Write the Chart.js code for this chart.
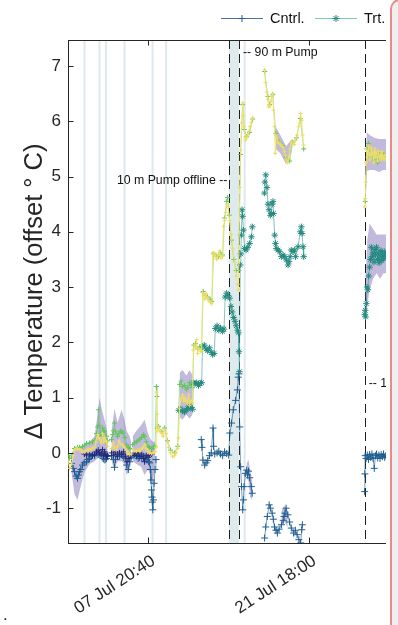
<!DOCTYPE html>
<html>
<head>
<meta charset="utf-8">
<script src="https://cdn.jsdelivr.net/npm/chart.js@4.4.1/dist/chart.umd.min.js"></script>
<style>
  html, body { margin: 0; padding: 0; background: #fff; }
  body { width: 398px; height: 625px; position: relative; overflow: hidden; font-family: "Liberation Sans", Arial, sans-serif; }
  #clip { position: absolute; left: 0; top: 0; width: 386px; height: 625px; overflow: hidden; }
  #side { position: absolute; left: 390px; top: -1px; width: 30px; height: 640px; background: #efefef;
          border-left: 2px solid #ec8a8a; border-top: 2px solid #ec8a8a; border-top-left-radius: 10px; }
  #dot { position: absolute; left: 3px; top: 605px; font-size: 17px; color: #222; }
</style>
</head>
<body>
<div id="clip"><canvas id="chart" width="430" height="625"></canvas></div>
<div id="side"></div>
<span id="dot">.</span>
<script>
// x values are days since 01 Jul 00:00
const xTickValues = [6.861, 20.75];
const xTickLabels = ['07 Jul 20:40', '21 Jul 18:00'];
const yTickValues = [-1, 0, 1, 2, 3, 4, 5, 6, 7];

// event markers
const eventDays = [1.42, 2.72, 3.28, 4.87, 7.29, 8.46, 15.23];
const pumpBand = [13.87, 14.74];
const dashedDays = [13.87, 14.74, 25.58];
const notes = [
  { text: '-- 90 m Pump', x: 14.74, y: 7.25, align: 'left' },
  { text: '10 m Pump offline --', x: 13.87, y: 4.93, align: 'right' },
  { text: '-- 10 m Pump online', x: 25.58, y: 1.25, align: 'left' }
];

// [day, value], null = gap
const cntrl = [
  [0.30,-0.19],[0.45,-0.28],[0.56,-0.34],[0.70,-0.42],[0.82,-0.46],[0.90,-0.40],[0.99,-0.34],[1.10,-0.30],
  [1.25,-0.22],[1.40,-0.18],[1.60,-0.16],[1.75,-0.12],[1.86,-0.10],[2.00,-0.06],[2.11,-0.04],[2.30,-0.05],
  [2.46,0.00],[2.60,-0.03],[2.75,-0.04],[2.90,-0.02],[3.05,-0.10],[3.20,-0.12],[3.32,-0.10],[3.41,-0.06], null,
  [3.75,-0.05],[3.93,-0.12],[4.01,-0.26],[4.10,-0.12],[4.27,-0.03],[4.44,-0.06],[4.62,-0.02],[4.80,-0.08],
  [4.95,-0.10],[5.05,-0.22],[5.20,-0.30],[5.31,-0.16],[5.45,-0.08], null,
  [5.60,-0.05],[5.74,-0.02],[5.90,-0.06],[6.05,-0.10],[6.17,-0.08],[6.35,-0.10],[6.50,-0.06],[6.65,-0.08],
  [6.80,-0.12],[6.95,-0.16],[7.03,-0.18],[7.10,-0.30],[7.15,-0.49],[7.20,-0.67],[7.24,-0.80],[7.27,-0.89],
  [7.31,-1.03],[7.36,-0.85],[7.42,-0.55],[7.50,-0.30],[7.58,-0.12], null,
  [11.49,0.24],[11.55,0.10],[11.63,-0.13],[11.78,-0.22],[11.90,-0.18],[12.04,-0.14],[12.20,-0.05],[12.35,0.00],
  [12.50,0.45],[12.55,0.12],[12.65,-0.02],[12.85,0.00],[13.00,0.03],[13.15,-0.02],[13.33,-0.05],[13.50,0.02],
  [13.68,-0.01],[13.85,-0.04],[13.95,0.36],[14.10,0.54],[14.25,0.78],[14.45,0.95],[14.60,1.14],[14.68,1.37],
  [14.74,1.43],[14.80,0.47],[14.88,-0.25],[14.96,-0.61],[15.06,-1.03],[15.12,-0.85],[15.18,-0.61],[15.29,-0.37],
  [15.40,-0.31],[15.48,-0.40],[15.56,-0.33],[15.66,-0.45],[15.80,-0.61],[15.88,-0.73], null,
  [16.95,-1.54],[17.05,-1.34],[17.18,-1.15],[17.34,-0.94],[17.45,-1.00],[17.60,-1.09],[17.70,-1.20],[17.80,-1.34],
  [17.93,-1.40],[18.05,-1.45],[18.20,-1.38],[18.40,-1.30],[18.55,-1.22],[18.62,-1.15],[18.70,-1.09],[18.80,-1.00],
  [18.95,-1.12],[19.10,-1.25],[19.25,-1.36],[19.45,-1.45],[19.60,-1.40],[19.75,-1.48],[19.90,-1.57],[20.05,-1.63],
  [20.15,-1.39],[20.20,-1.30], null,
  [25.57,-0.70],[25.59,-0.38],[25.62,-0.05],[25.70,-0.10],[25.80,-0.04],[25.90,-0.12],[26.00,-0.03],[26.10,-0.08],
  [26.20,-0.02],[26.30,-0.10],[26.40,-0.28],[26.50,-0.05],[26.60,-0.02],[26.70,-0.09],[26.80,-0.04],[26.90,-0.10],
  [27.00,-0.03],[27.10,-0.07],[27.20,-0.02],[27.30,-0.08],[27.40,-0.05],[27.55,-0.06]
];

const trt = [
  [9.55,0.77],[9.70,0.80],[9.88,0.76],[10.05,0.74],[10.20,0.78],[10.31,0.80],[10.48,0.86],[10.60,0.82],[10.74,0.79],
  [10.80,1.27],[10.95,1.25],[11.09,1.27],[11.25,1.22],[11.40,1.26],[11.52,1.27],
  [11.60,1.92],[11.75,1.95],[11.90,1.88],[12.04,1.85],[12.20,1.90],[12.35,1.82],[12.47,1.78],[12.60,1.80],
  [12.70,2.25],[12.85,2.30],[13.00,2.22],[13.15,2.26],[13.33,2.20],[13.45,2.24],
  [13.55,2.82],[13.68,2.89],[13.80,2.85],[13.93,2.80],[14.05,2.65],[14.15,2.55],[14.28,2.45],[14.40,2.38],
  [14.50,2.30],[14.62,2.22],[14.70,2.17],[14.74,1.83],[14.78,1.47],
  [14.85,3.40],[14.90,3.60],[14.94,3.94],[15.00,4.40],[15.05,4.28],[15.12,4.03],[15.22,3.70],[15.35,3.67],
  [15.50,3.72],[15.66,3.79],[15.81,3.91],[15.89,4.09], null,
  [16.93,4.70],[16.97,4.90],[17.05,5.03],[17.15,4.80],[17.24,4.50],[17.33,4.40],[17.44,4.30],[17.52,4.33],
  [17.60,4.50],[17.67,4.55],[17.72,4.33],[17.82,3.94],[17.89,3.79],[17.96,3.70],[18.11,3.67],[18.25,3.64],
  [18.39,3.55],[18.54,3.58],[18.68,3.55],[18.82,3.49],[18.97,3.40],[19.05,3.46],[19.15,3.55],[19.25,3.67],
  [19.40,3.64],[19.54,3.67],[19.62,3.55],[19.83,3.73],[20.03,4.00],[20.12,4.09],[20.18,3.97],[20.26,3.73],[20.32,3.55], null,
  [25.58,2.50],[25.62,2.58],[25.66,2.46],[25.72,2.70],[25.78,3.00],[25.85,2.95],[25.92,3.20],[26.00,3.36],
  [26.08,3.50],[26.15,3.72],[26.22,3.55],[26.30,3.62],[26.38,3.45],[26.45,3.68],[26.52,3.58],[26.60,3.72],
  [26.68,3.50],[26.75,3.62],[26.82,3.44],[26.90,3.56],[26.98,3.66],[27.05,3.48],[27.12,3.60],[27.20,3.52],
  [27.30,3.64],[27.40,3.55],[27.55,3.58]
];

const navy = [
  [1.42,-0.02],[1.60,-0.04],[1.86,-0.02],[2.11,-0.05],[2.29,-0.03],[2.46,0.02],[2.60,0.05],[2.72,0.00],
  [2.85,-0.02],[2.98,0.06],[3.07,-0.05],[3.15,0.02],[3.25,-0.03],[3.32,-0.06],[3.41,-0.05], null,
  [3.75,0.00],[3.93,-0.04],[4.10,0.02],[4.27,-0.06],[4.44,0.00],[4.62,-0.03],[4.80,0.02],[4.95,-0.06],
  [5.10,-0.16],[5.25,-0.10],[5.40,-0.05], null,
  [5.74,-0.02],[5.90,-0.05],[6.05,0.00],[6.20,-0.06],[6.35,-0.02],[6.50,-0.10],[6.60,-0.16],[6.75,-0.05],
  [6.90,-0.08],[7.03,-0.04],[7.20,-0.02]
];

const green = [
  [0.00,-0.04],[0.13,-0.10],[0.30,-0.05],[0.56,0.08],[0.82,0.10],[0.99,0.10],[1.25,0.12],[1.42,0.14],
  [1.60,0.17],[1.86,0.18],[2.11,0.20],[2.29,0.22],[2.46,0.35],[2.55,0.47],[2.62,0.78],[2.68,0.50],
  [2.80,0.35],[2.90,0.30],[2.98,0.45],[3.07,0.40],[3.15,0.38],[3.32,0.30],[3.41,0.22], null,
  [3.75,0.24],[3.85,0.33],[3.93,0.40],[4.01,0.54],[4.10,0.38],[4.27,0.30],[4.40,0.35],[4.55,0.40],
  [4.62,0.38],[4.75,0.36],[4.90,0.28],[5.05,0.15],[5.20,0.10],[5.35,0.08], null,
  [5.57,0.15],[5.74,0.18],[5.90,0.20],[6.05,0.22],[6.20,0.25],[6.35,0.28],[6.50,0.33],[6.60,0.30],
  [6.75,0.20],[6.90,0.12],[7.03,0.10],[7.20,0.08],[7.35,0.10],[7.50,0.12],[7.62,1.20],[7.66,1.02],
  [7.70,0.45],[7.81,0.48],[8.07,0.38],[8.33,0.45],[8.58,0.22],[8.84,0.05],[9.19,0.00],[9.45,0.12],
  [9.62,1.24],[9.75,1.30],[9.88,1.20],[10.05,1.22],[10.20,1.15],[10.31,1.18],[10.48,1.27],[10.60,1.22],[10.74,1.18],
  [10.85,1.95],[11.00,1.98],[11.17,1.88],[11.35,1.92],[11.52,1.90],
  [11.65,2.92],[11.85,2.85],[12.04,2.82],[12.25,2.78],[12.40,2.74],
  [12.55,3.60],[12.75,3.58],[12.95,3.55],[13.15,3.62],[13.33,3.58],
  [13.50,4.25],[13.68,4.55],[13.76,4.62],[13.90,4.30],[14.10,3.85],[14.30,3.50],[14.50,3.30],[14.71,3.30],
  [14.88,5.40],[15.06,6.30],[15.20,5.85],[15.40,5.72],[15.66,5.80],[15.92,6.04], null,
  [16.95,6.90],[17.22,6.45],[17.39,6.30],[17.65,6.48],[17.91,5.78],[18.20,5.62],[18.51,5.56],[18.80,5.35],
  [19.11,5.28],[19.37,5.62],[19.70,5.70],[20.03,6.05],[20.32,5.50], null,
  [25.62,4.55],[25.76,5.50],[25.90,5.60],[26.05,5.35],[26.20,5.45],[26.36,5.30],[26.52,5.38],[26.68,5.25],
  [26.84,5.40],[27.00,5.32],[27.16,5.42],[27.35,5.35],[27.55,5.38]
];

const yellow = [
  [0.00,-0.13],[0.13,-0.28],[0.30,-0.20],[0.45,-0.05],[0.56,0.05],[0.70,0.08],[0.82,0.08],[0.99,0.06],
  [1.15,0.04],[1.25,0.02],[1.42,0.02],[1.60,0.05],[1.75,0.06],[1.86,0.05],[2.00,0.08],[2.11,0.08],
  [2.29,0.10],[2.40,0.20],[2.55,0.33],[2.65,0.28],[2.72,0.25],[2.85,0.18],[2.98,0.35],[3.07,0.20],
  [3.15,0.28],[3.25,0.22],[3.32,0.20],[3.41,0.12], null,
  [3.75,0.08],[3.93,0.18],[4.01,0.10],[4.15,0.05],[4.27,0.12],[4.40,0.22],[4.55,0.15],[4.70,0.15],
  [4.85,0.10],[5.05,0.04],[5.18,-0.01],[5.31,-0.03],[5.45,-0.02], null,
  [5.57,0.06],[5.74,0.04],[5.90,0.03],[6.05,0.05],[6.20,0.03],[6.30,0.07],[6.43,0.09],[6.60,0.15],
  [6.75,0.08],[6.90,0.03],[7.03,0.00],[7.20,-0.01],[7.35,0.00],[7.50,0.02],[7.60,0.10],[7.62,1.10],
  [7.66,0.70],[7.70,0.40],[7.81,0.46],[7.95,0.40],[8.07,0.35],[8.20,0.30],[8.33,0.42],[8.45,0.35],
  [8.58,0.20],[8.70,0.10],[8.84,0.00],[9.02,-0.07],[9.19,-0.05],[9.30,0.00],[9.45,0.08],[9.53,0.27],
  [9.62,0.80],[9.75,0.98],[9.88,1.05],[10.00,0.93],[10.10,1.00],[10.20,0.95],[10.31,0.90],[10.40,1.05],
  [10.48,0.86],[10.60,0.95],[10.74,0.90],
  [10.80,1.86],[10.91,1.95],[11.00,1.90],[11.09,2.05],[11.17,1.80],[11.30,1.88],[11.45,1.83],[11.52,1.85],
  [11.60,2.90],[11.70,2.85],[11.80,2.78],[11.90,2.88],[12.04,2.80],[12.15,2.75],[12.30,2.72],[12.40,2.70],
  [12.47,3.62],[12.60,3.55],[12.70,3.60],[12.81,3.50],[12.95,3.58],[13.07,3.65],[13.20,3.52],[13.33,3.55],
  [13.40,4.10],[13.50,4.20],[13.60,4.35],[13.70,4.50],[13.80,4.45],[13.93,4.20],[14.05,3.95],[14.20,3.70],
  [14.35,3.45],[14.50,3.20],[14.62,3.05],[14.71,2.95],
  [14.80,4.80],[14.88,5.48],[14.97,5.97],[15.06,6.33],[15.12,6.10],[15.18,5.90],[15.30,5.66],[15.40,5.70],
  [15.50,5.75],[15.60,5.82],[15.70,5.90],[15.80,5.98],[15.92,6.06], null,
  [16.95,6.93],[17.02,6.70],[17.13,6.53],[17.22,6.40],[17.30,6.26],[17.39,6.28],[17.48,6.35],[17.56,6.45],
  [17.65,6.50],[17.72,6.20],[17.80,5.90],[17.86,5.42],[17.91,5.75],[18.00,5.70],[18.10,5.62],[18.20,5.60],
  [18.32,5.58],[18.45,5.55],[18.55,5.52],[18.65,5.45],[18.75,5.38],[18.85,5.30],[18.94,5.25],[19.03,5.35],
  [19.15,5.50],[19.25,5.62],[19.37,5.60],[19.50,5.58],[19.62,5.65],[19.75,5.75],[19.88,5.90],[19.97,5.97],
  [20.05,6.14],[20.15,6.02],[20.23,5.75],[20.32,5.57], null,
  [25.58,4.45],[25.62,4.60],[25.66,4.90],[25.70,5.25],[25.76,5.48],[25.82,5.35],[25.90,5.55],[25.98,5.40],
  [26.05,5.30],[26.12,5.52],[26.20,5.38],[26.28,5.45],[26.36,5.25],[26.45,5.50],[26.52,5.35],[26.60,5.42],
  [26.68,5.28],[26.76,5.46],[26.84,5.34],[26.92,5.40],[27.00,5.30],[27.08,5.45],[27.16,5.32],[27.25,5.38],
  [27.35,5.30],[27.45,5.40],[27.55,5.35]
];

// spread band: [day, upper, lower], null separates bands
const spread = [
  [0.30,0.00,-0.35],[0.56,0.05,-0.75],[0.82,0.10,-0.85],[1.10,0.10,-0.60],[1.42,0.15,-0.35],[1.86,0.20,-0.20],
  [2.29,0.30,-0.15],[2.55,0.70,-0.10],[2.72,1.00,-0.05],[2.90,0.80,-0.15],[3.15,0.60,-0.20],[3.41,0.35,-0.15], null,
  [3.75,0.40,-0.15],[4.01,0.80,-0.30],[4.27,0.55,-0.15],[4.62,0.78,-0.15],[4.87,0.60,-0.20],[5.05,0.40,-0.40],
  [5.31,0.30,-0.30],[5.45,0.20,-0.15], null,
  [5.57,0.30,-0.15],[5.90,0.40,-0.20],[6.30,0.50,-0.25],[6.60,0.60,-0.40],[6.90,0.35,-0.30],[7.10,0.25,-0.40],
  [7.30,0.20,-0.60],[7.50,0.20,-0.20], null,
  [9.62,1.45,0.65],[9.88,1.50,0.60],[10.20,1.40,0.70],[10.48,1.50,0.62],[10.74,1.40,0.70], null,
  [15.40,-0.20,-0.45],[15.55,-0.12,-0.50],[15.70,-0.30,-0.80],[15.90,-0.55,-0.85], null,
  [17.90,5.90,5.50],[18.30,5.75,5.42],[18.80,5.55,5.22],[19.30,5.68,5.48], null,
  [18.40,-1.05,-1.30],[18.68,-0.95,-1.25],[18.94,-1.05,-1.35], null,
  [25.62,2.95,2.25],[25.80,3.85,2.65],[26.00,4.15,2.95],[26.30,4.05,3.15],[26.60,3.95,3.25],[26.90,3.95,3.15],
  [27.20,3.95,3.25],[27.55,3.95,3.25], null,
  [25.62,4.95,4.30],[25.76,5.80,5.10],[26.00,5.75,5.12],[26.40,5.70,5.12],[26.80,5.68,5.08],[27.20,5.68,5.12],[27.55,5.68,5.12]
];

function toPoints(rows, col) {
  let last = 0;
  return rows.map(r => {
    if (!r) return { x: last + 0.01, y: null };
    last = r[0];
    return { x: r[0], y: r[col] };
  });
}

function splitRows(rows) {
  const segs = [[]];
  rows.forEach(r => { if (r) segs[segs.length - 1].push(r); else segs.push([]); });
  return segs;
}

const font = "'Liberation Sans', Arial, sans-serif";
const axisColor = '#262626';

function series(data, line, mark, style, radius, order) {
  return {
    data: toPoints(data, 1), borderColor: line, borderWidth: 1,
    pointStyle: style, pointRadius: radius, pointBorderColor: mark, pointBackgroundColor: mark,
    pointBorderWidth: 1, fill: false, order: order
  };
}

// one upper/lower pair of datasets for each band
const bandSets = [];
splitRows(spread).forEach(seg => {
  bandSets.push({ data: toPoints(seg, 1), borderWidth: 0, pointRadius: 0, fill: false, order: 20 });
  bandSets.push({ data: toPoints(seg, 2), borderWidth: 0, pointRadius: 0, fill: '-1',
    backgroundColor: 'rgba(110,90,172,0.42)', order: 19 });
});

const cntrlSet = series(cntrl, 'rgba(31,95,145,0.6)', '#1f5e91', 'cross', 3.5, 5);
const trtSet = series(trt, 'rgba(35,150,140,0.55)', '#23897f', 'star', 3.2, 3);
const navySet = series(navy, 'rgba(38,42,120,0.5)', '#27297a', 'cross', 3, 4);
const greenSet = series(green, 'rgba(98,198,93,0.55)', '#62c65d', 'cross', 2.5, 2);
const yellowSet = series(yellow, 'rgba(246,228,110,0.9)', '#eedc62', 'cross', 2, 1);

const decor = {
  id: 'decor',
  beforeDatasetsDraw(chart) {
    const { ctx, chartArea: a, scales: { x } } = chart;
    ctx.save();
    ctx.beginPath();
    ctx.rect(a.left, a.top, a.right - a.left, a.bottom - a.top);
    ctx.clip();
    const b0 = x.getPixelForValue(pumpBand[0]), b1 = x.getPixelForValue(pumpBand[1]);
    ctx.fillStyle = '#dfeaec';
    ctx.fillRect(b0, a.top, b1 - b0, a.bottom - a.top);
    ctx.strokeStyle = '#dde9ec';
    ctx.lineWidth = 2;
    eventDays.forEach(d => {
      const px = x.getPixelForValue(d);
      ctx.beginPath(); ctx.moveTo(px, a.top); ctx.lineTo(px, a.bottom); ctx.stroke();
    });
    ctx.strokeStyle = '#1e1e1e';
    ctx.lineWidth = 1;
    ctx.setLineDash([9, 5]);
    dashedDays.forEach(d => {
      const px = Math.round(x.getPixelForValue(d)) + 0.5;
      ctx.beginPath(); ctx.moveTo(px, a.top); ctx.lineTo(px, a.bottom); ctx.stroke();
    });
    ctx.restore();
  },
  afterDatasetsDraw(chart) {
    const { ctx, chartArea: a, scales: { x, y } } = chart;
    ctx.save();
    // top frame + inward ticks
    ctx.strokeStyle = axisColor;
    ctx.lineWidth = 1;
    ctx.beginPath();
    ctx.moveTo(a.left, a.top + 0.5); ctx.lineTo(a.right, a.top + 0.5);
    yTickValues.forEach(v => {
      const py = Math.round(y.getPixelForValue(v)) + 0.5;
      ctx.moveTo(a.left, py); ctx.lineTo(a.left + 5.5, py);
    });
    xTickValues.forEach(v => {
      const px = Math.round(x.getPixelForValue(v)) + 0.5;
      ctx.moveTo(px, a.bottom); ctx.lineTo(px, a.bottom - 5.5);
      ctx.moveTo(px, a.top); ctx.lineTo(px, a.top + 5.5);
    });
    ctx.stroke();

    // notes
    ctx.fillStyle = '#111';
    ctx.font = '12.3px ' + font;
    ctx.textBaseline = 'middle';
    notes.forEach(n => {
      const px = x.getPixelForValue(n.x);
      ctx.textAlign = n.align;
      ctx.fillText(n.text, n.align === 'left' ? px + 4 : px - 1.5, y.getPixelForValue(n.y));
    });

    // legend
    const items = [
      { text: 'Cntrl.', ds: cntrlSet, x0: 221, line: 'rgba(50,100,155,0.9)' },
      { text: 'Trt.', ds: trtSet, x0: 315, line: 'rgba(110,195,182,0.9)' }
    ];
    const ly = 18;
    ctx.font = '14.5px ' + font;
    ctx.textAlign = 'left';
    items.forEach(it => {
      ctx.strokeStyle = it.line;
      ctx.lineWidth = 1;
      ctx.beginPath(); ctx.moveTo(it.x0, ly + 0.5); ctx.lineTo(it.x0 + 42, ly + 0.5); ctx.stroke();
      ctx.strokeStyle = it.ds.pointBorderColor;
      ctx.fillStyle = it.ds.pointBorderColor;
      Chart.helpers.drawPoint(ctx, { pointStyle: it.ds.pointStyle, radius: 3.5, borderWidth: 1, rotation: 0 }, it.x0 + 21, ly + 0.5);
      ctx.fillStyle = '#111';
      ctx.fillText(it.text, it.x0 + 49, ly + 1);
    });
    ctx.restore();
  }
};

new Chart(document.getElementById('chart'), {
  type: 'line',
  data: { datasets: [...bandSets, cntrlSet, trtSet, navySet, greenSet, yellowSet] },
  options: {
    responsive: false,
    animation: false,
    devicePixelRatio: 1,
    layout: { padding: { top: 40, right: 14, left: 0, bottom: 0 } },
    plugins: { legend: { display: false }, tooltip: { enabled: false } },
    scales: {
      x: {
        type: 'linear', min: 0, max: 30,
        afterBuildTicks: s => { s.ticks = xTickValues.map(v => ({ value: v })); },
        afterFit: s => { s.height = 82; },
        grid: { display: false, drawTicks: false },
        border: { display: true, color: axisColor, width: 1 },
        ticks: {
          autoSkip: false, maxRotation: 33, minRotation: 33, padding: 8, labelOffset: 6,
          color: axisColor, font: { family: font, size: 17 },
          callback: (v, i) => xTickLabels[i]
        }
      },
      y: {
        min: -1.63, max: 7.47,
        afterBuildTicks: s => { s.ticks = yTickValues.map(v => ({ value: v })); },
        afterFit: s => { s.width = 68; },
        grid: { display: false, drawTicks: false },
        border: { display: true, color: axisColor, width: 1 },
        ticks: { padding: 7, color: axisColor, font: { family: font, size: 17 } },
        title: {
          display: true, text: 'Δ Temperature (offset ° C)', color: axisColor,
          font: { family: font, size: 25.5 }, padding: { top: 20, bottom: 0 }
        }
      }
    }
  },
  plugins: [decor]
});
</script>
</body>
</html>
